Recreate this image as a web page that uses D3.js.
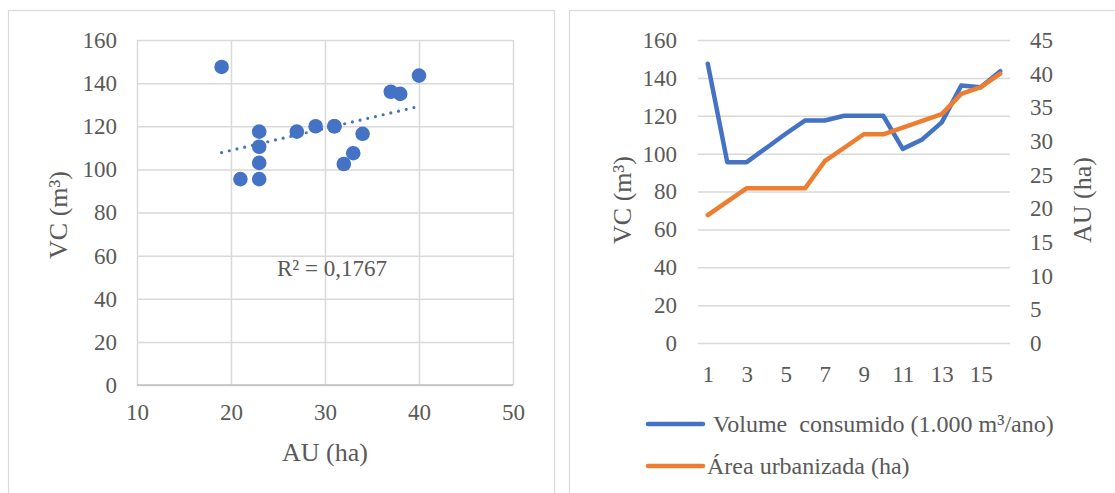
<!DOCTYPE html>
<html><head><meta charset="utf-8">
<script src="https://cdn.jsdelivr.net/npm/d3@7"></script>
<style>
html,body{margin:0;padding:0;background:#fff;}
svg text{font-family:"Liberation Serif","Times New Roman",serif !important;fill:#595959;}
</style></head>
<body><svg id="c" width="1115" height="493"></svg>
<script>
// Data
const periods = [1,2,3,4,5,6,7,8,9,10,11,12,13,14,15,16];
const volumeConsumido = [147.5,95.5,95.5,103,110.5,117.5,117.5,120,120,120,102.5,107.5,116.5,136,135,143.5];
const areaUrbanizada = [19,21,23,23,23,23,27,29,31,31,32,33,34,37,38,40];
const scatterXTicks = [10,20,30,40,50];
const vcTicks = [0,20,40,60,80,100,120,140,160];
const auTicks = [0,5,10,15,20,25,30,35,40,45];
const periodLabels = [1,3,5,7,9,11,13,15];
const r2Label = "R² = 0,1767";
const legendLabels = ["Volume  consumido (1.000 m³/ano)", "Área urbanizada (ha)"];

const BLUE = "#4472C4", ORANGE = "#ED7D31", GRID = "#D9D9D9";
const FONT = '"Liberation Serif","Times New Roman",serif';
const svg = d3.select("#c");
svg.append("rect").attr("width",1115).attr("height",493).attr("fill","#fff");

function styleTicks(g){
  g.select(".domain").remove();
  g.attr("font-family",FONT);
  g.selectAll("text").style("font-family",FONT).style("font-size","23px").attr("fill","#595959");
}

// panel borders
svg.append("rect").attr("x",8.5).attr("y",10.5).attr("width",546).attr("height",500)
  .attr("fill","none").attr("stroke",GRID).attr("stroke-width",1.2);
svg.append("rect").attr("x",569.5).attr("y",10.5).attr("width",560).attr("height",500)
  .attr("fill","none").attr("stroke",GRID).attr("stroke-width",1.2);

// ---------- Left scatter ----------
const xS = d3.scaleLinear().domain([10,50]).range([137,513]);
const yS = d3.scaleLinear().domain([0,160]).range([385,40]);
const gL = svg.append("g");
gL.append("g").attr("transform","translate(0,385)")
  .call(d3.axisBottom(xS).tickValues(scatterXTicks).tickSize(-345).tickFormat(""))
  .call(g=>{g.select(".domain").remove(); g.selectAll("line").attr("stroke",GRID).attr("stroke-width",1.5);});
gL.append("g").attr("transform","translate(137,0)")
  .call(d3.axisLeft(yS).tickValues(vcTicks).tickSize(-376).tickFormat(""))
  .call(g=>{g.select(".domain").remove(); g.selectAll("line").attr("stroke",GRID).attr("stroke-width",1.5);});
gL.append("line").attr("x1",137).attr("x2",513).attr("y1",385).attr("y2",385).attr("stroke","#BFBFBF").attr("stroke-width",1.5);
gL.append("g").attr("transform","translate(137,0)")
  .call(d3.axisLeft(yS).tickValues(vcTicks).tickSize(0).tickPadding(20)).call(styleTicks);
gL.append("g").attr("transform","translate(0,385)")
  .call(d3.axisBottom(xS).tickValues(scatterXTicks).tickSize(0).tickPadding(19)).call(styleTicks);
// trendline (least squares)
const n = areaUrbanizada.length;
const mx = d3.mean(areaUrbanizada), my = d3.mean(volumeConsumido);
let sxy=0, sxx=0;
for(let i=0;i<n;i++){sxy+=(areaUrbanizada[i]-mx)*(volumeConsumido[i]-my); sxx+=(areaUrbanizada[i]-mx)**2;}
const slope = sxy/sxx, icpt = my - slope*mx;
const x0 = d3.min(areaUrbanizada), x1 = d3.max(areaUrbanizada);
gL.append("line").attr("x1",xS(x0)).attr("y1",yS(icpt+slope*x0)).attr("x2",xS(x1)).attr("y2",yS(icpt+slope*x1))
  .attr("stroke",BLUE).attr("stroke-width",3.2).attr("stroke-linecap","round").attr("stroke-dasharray","0 7.9");
gL.selectAll("circle.pt").data(periods).join("circle").attr("class","pt")
  .attr("cx",(d,i)=>xS(areaUrbanizada[i])).attr("cy",(d,i)=>yS(volumeConsumido[i])).attr("r",7.3).attr("fill",BLUE);
gL.append("text").attr("x",277).attr("y",276).style("font-size","23px").text(r2Label);
gL.append("text").attr("x",325).attr("y",461).attr("text-anchor","middle").style("font-size","26px").text("AU (ha)");
gL.append("text").attr("transform","translate(67,215) rotate(-90)").attr("text-anchor","middle").style("font-size","26px")
  .text("VC (m³)");

// ---------- Right line chart ----------
const xB = d3.scalePoint().domain(periods).range([698,1010]).padding(0.5);
const yV = d3.scaleLinear().domain([0,160]).range([343,40]);
const yA = d3.scaleLinear().domain([0,45]).range([343,40]);
const gR = svg.append("g");
gR.append("g").attr("transform","translate(698,0)")
  .call(d3.axisLeft(yV).tickValues(vcTicks).tickSize(-312).tickFormat(""))
  .call(g=>{g.select(".domain").remove(); g.selectAll("line").attr("stroke",GRID).attr("stroke-width",1.5);});
gR.append("g").attr("transform","translate(698,0)")
  .call(d3.axisLeft(yV).tickValues(vcTicks).tickSize(0).tickPadding(21)).call(styleTicks);
gR.append("g").attr("transform","translate(1010,0)")
  .call(d3.axisRight(yA).tickValues(auTicks).tickSize(0).tickPadding(20)).call(styleTicks);
gR.append("g").attr("transform","translate(0,343)")
  .call(d3.axisBottom(xB).tickValues(periodLabels).tickSize(0).tickPadding(23)).call(styleTicks);
const lineV = d3.line().x((d,i)=>xB(periods[i])).y(d=>yV(d));
const lineA = d3.line().x((d,i)=>xB(periods[i])).y(d=>yA(d));
gR.append("path").datum(volumeConsumido).attr("d",lineV).attr("fill","none").attr("stroke",BLUE)
  .attr("stroke-width",4.5).attr("stroke-linejoin","round").attr("stroke-linecap","round");
gR.append("path").datum(areaUrbanizada).attr("d",lineA).attr("fill","none").attr("stroke",ORANGE)
  .attr("stroke-width",4.5).attr("stroke-linejoin","round").attr("stroke-linecap","round");
gR.append("text").attr("transform","translate(631,200) rotate(-90)").attr("text-anchor","middle").style("font-size","26px").text("VC (m³)");
gR.append("text").attr("transform","translate(1091,200) rotate(-90)").attr("text-anchor","middle").style("font-size","26px").text("AU (ha)");
const leg = [{c:BLUE,y:424,tx:713},{c:ORANGE,y:466,tx:707}];
leg.forEach((l,i)=>{
  gR.append("line").attr("x1",648).attr("x2",703).attr("y1",l.y).attr("y2",l.y).attr("stroke",l.c).attr("stroke-width",4.5).attr("stroke-linecap","round");
  gR.append("text").attr("x",l.tx).attr("y",l.y+8).style("font-size","24px").style("white-space","pre").attr("xml:space","preserve").text(legendLabels[i]);
});
</script></body></html>
